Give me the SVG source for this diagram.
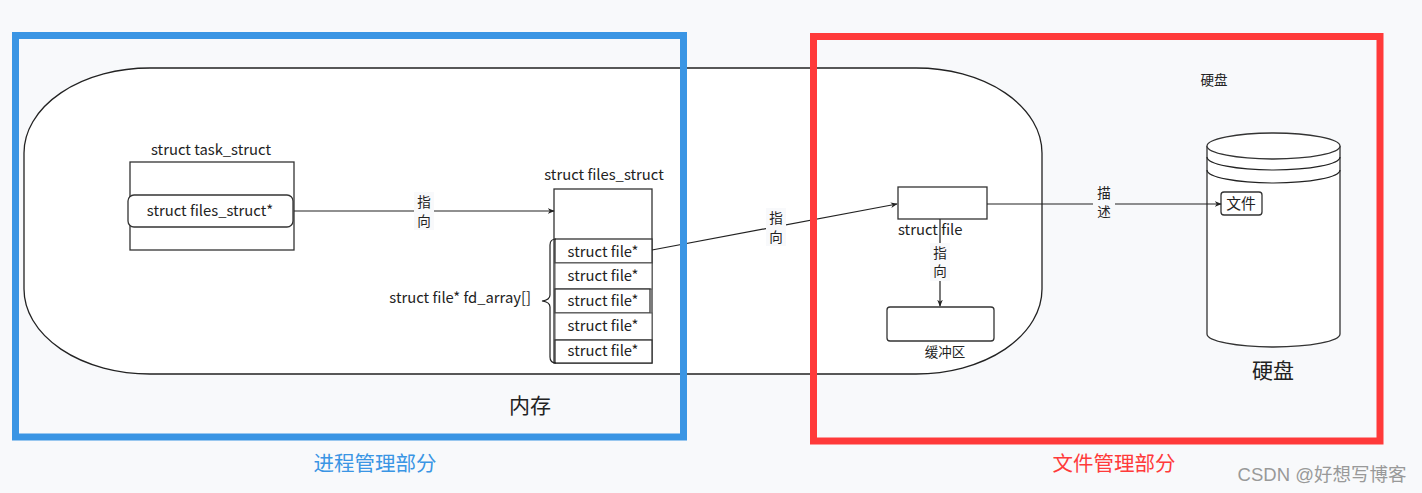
<svg xmlns="http://www.w3.org/2000/svg" width="1422" height="493" viewBox="0 0 1422 493">
<defs>
<style>
text{font-family:"Noto Sans CJK SC","Noto Sans",sans-serif;fill:#222}
.t14{font-size:14.8px}
.t13{font-size:13.5px}
.box{fill:#fff;stroke:#333;stroke-width:1.3}
.cell{fill:#fff;stroke:#555;stroke-width:1}
.ln{fill:none;stroke:#222;stroke-width:1.2}
.lbl{fill:#f8f9fb}
</style>
<marker id="ah" viewBox="0 0 10 10" refX="9" refY="5" markerWidth="7" markerHeight="7" orient="auto" markerUnits="userSpaceOnUse">
<path d="M0,1 L10,5 L0,9 L3,5 Z" fill="#222"/>
</marker>
</defs>
<rect width="1422" height="493" fill="#f8f9fb"/>

<g id="memory">
<rect x="24" y="68" width="1018" height="306" rx="126" ry="85" fill="#fff" stroke="#222" stroke-width="1.3"/>
<text x="530" y="413" font-size="21" text-anchor="middle">内存</text>
</g>

<g id="disk-title"><text x="1214" y="85" class="t13" text-anchor="middle">硬盘</text></g>

<g id="task_struct">
<text x="211" y="155" class="t14" text-anchor="middle">struct task_struct</text>
<rect x="130" y="162" width="164" height="88" class="box"/>
<rect x="128" y="195" width="165" height="32" rx="6" class="box"/>
<text x="210" y="216" class="t14" text-anchor="middle">struct files_struct*</text>
</g>

<g id="files_struct">
<text x="604" y="180" class="t14" text-anchor="middle">struct files_struct</text>
<rect x="554" y="189" width="98" height="174" class="box"/>
<rect x="555" y="239" width="97" height="24" fill="#fff" stroke="#333" stroke-width="1.3"/>
<rect x="555" y="263" width="97" height="26" class="cell"/>
<rect x="555" y="289" width="95" height="24" fill="#fff" stroke="#333" stroke-width="1.3"/>
<rect x="555" y="313" width="97" height="27" class="cell"/>
<rect x="555" y="340" width="97" height="23" fill="#fff" stroke="#333" stroke-width="1.3"/>
<text x="603" y="257" class="t14" text-anchor="middle">struct file*</text>
<text x="603" y="281" class="t14" text-anchor="middle">struct file*</text>
<text x="603" y="306" class="t14" text-anchor="middle">struct file*</text>
<text x="603" y="331" class="t14" text-anchor="middle">struct file*</text>
<text x="603" y="356" class="t14" text-anchor="middle">struct file*</text>
<path d="M556,239 Q550,239 550,245 L550,295 Q550,300 542,301 Q550,302 550,307 L550,357 Q550,363 556,363" class="ln" stroke-width="1"/>
<text x="531" y="303" class="t14" text-anchor="end">struct file* fd_array[]</text>
</g>

<g id="struct_file">
<rect x="898" y="187" width="89" height="32" class="box"/>
<text x="898" y="235" class="t14">struct file</text>
</g>

<g id="buffer">
<rect x="887" y="307" width="107" height="34" rx="3" class="box"/>
<text x="945" y="357" class="t13" text-anchor="middle">缓冲区</text>
</g>

<g id="disk">
<path d="M1207,146 L1207,334 A66.5,13 0 0 0 1340,334 L1340,146" class="box"/>
<ellipse cx="1273.5" cy="146" rx="66.5" ry="13" class="box"/>
<path d="M1207,157 A66.5,13 0 0 0 1340,157" class="ln"/>
<path d="M1207,170 A66.5,13 0 0 0 1340,170" class="ln"/>
<text x="1273" y="378" font-size="21" text-anchor="middle">硬盘</text>
</g>

<g id="file">
<rect x="1221" y="192" width="41" height="23" rx="3" class="box"/>
<text x="1241" y="209" class="t14" text-anchor="middle">文件</text>
</g>

<g id="connectors">
<line x1="294" y1="211" x2="554" y2="211" class="ln" marker-end="url(#ah)"/>
<rect x="414" y="192" width="20" height="38" class="lbl"/>
<text x="424" y="207" class="t13" text-anchor="middle">指</text>
<text x="424" y="226" class="t13" text-anchor="middle">向</text>

<line x1="652" y1="250" x2="897" y2="204" class="ln" marker-end="url(#ah)"/>
<rect x="766" y="208" width="20" height="38" class="lbl"/>
<text x="776" y="223" class="t13" text-anchor="middle">指</text>
<text x="776" y="242" class="t13" text-anchor="middle">向</text>

<line x1="940" y1="219" x2="940" y2="306" class="ln" marker-end="url(#ah)"/>
<rect x="930" y="243" width="20" height="38" class="lbl"/>
<text x="940" y="258" class="t13" text-anchor="middle">指</text>
<text x="940" y="276" class="t13" text-anchor="middle">向</text>

<line x1="987" y1="204" x2="1221" y2="204" class="ln" marker-end="url(#ah)"/>
<rect x="1093" y="184" width="22" height="38" class="lbl"/>
<text x="1104" y="198" class="t13" text-anchor="middle">描</text>
<text x="1104" y="217" class="t13" text-anchor="middle">述</text>
</g>

<g id="process-region">
<rect x="15.5" y="35.5" width="668" height="401.5" fill="none" stroke="#3a95e4" stroke-width="7"/>
<text x="375" y="471" font-size="20.5" text-anchor="middle" style="fill:#3a95e4">进程管理部分</text>
</g>

<g id="file-region">
<rect x="813.5" y="36.5" width="566.5" height="404.5" fill="none" stroke="#ff3a3a" stroke-width="7"/>
<text x="1114" y="471" font-size="20.5" text-anchor="middle" style="fill:#ff3a3a">文件管理部分</text>
</g>

<text x="1322" y="481" font-size="18.5" text-anchor="middle" style="fill:#999;font-family:'Liberation Sans','Noto Sans CJK SC',sans-serif">CSDN @好想写博客</text>
</svg>
